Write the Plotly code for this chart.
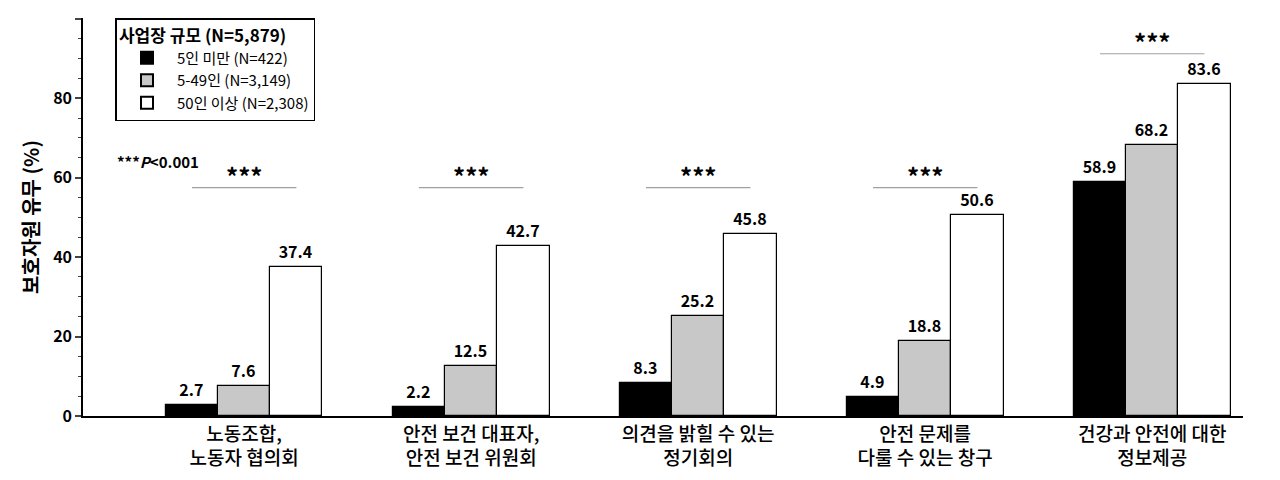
import plotly.graph_objects as go

categories = ["노동조합,<br>노동자 협의회", "안전 보건 대표자,<br>안전 보건 위원회",
              "의견을 밝힐 수 있는<br>정기회의", "안전 문제를<br>다룰 수 있는 창구",
              "건강과 안전에 대한<br>정보제공"]
series_names = ["5인 미만 (N=422)", "5-49인 (N=3,149)", "50인 이상 (N=2,308)"]
under5 = [2.7, 2.2, 8.3, 4.9, 58.9]
from5to49 = [7.6, 12.5, 25.2, 18.8, 68.2]
over50 = [37.4, 42.7, 45.8, 50.6, 83.6]
sig_levels = [57.5, 57.5, 57.5, 57.5, 91.2]

font = "Noto Sans CJK KR"
colors = ["black", "#c8c8c8", "white"]
w = 0.23
xs = list(range(len(categories)))

fig = go.Figure()
for i, (name, vals) in enumerate(zip(series_names, [under5, from5to49, over50])):
    fig.add_trace(go.Bar(
        x=[x + (i - 1) * w for x in xs], y=vals, width=w, name=name,
        marker=dict(color=colors[i], line=dict(color="black", width=1.2)),
        text=[f"{v:.1f}" for v in vals], textposition="outside",
        textfont=dict(size=16, color="black", family=font, weight="bold"),
        cliponaxis=False))

for x, lvl in zip(xs, sig_levels):
    fig.add_shape(type="line", x0=x - 0.23, x1=x + 0.23, y0=lvl, y1=lvl,
                  line=dict(color="#a0a0a0", width=1.2))
    fig.add_annotation(x=x, y=lvl, text="***", showarrow=False, yshift=12,
                       font=dict(size=24, color="black", family=font, weight="bold"))

fig.add_annotation(xref="paper", yref="y", x=0.028, y=64, xanchor="left",
                   text="***<i>P</i><0.001", showarrow=False,
                   font=dict(size=15, color="black", family=font, weight="bold"))

fig.update_layout(
    width=1280, height=480, plot_bgcolor="white", paper_bgcolor="white",
    margin=dict(l=75, r=45, t=10, b=72), bargap=0, barmode="overlay",
    font=dict(family=font, color="black"),
    legend=dict(x=0.028, y=1.0, xanchor="left", yanchor="top",
                bordercolor="black", borderwidth=1.5, bgcolor="white",
                title=dict(text="<b>사업장 규모 (N=5,879)</b>", font=dict(size=17)),
                font=dict(size=15), itemwidth=50, tracegroupgap=4,
                itemsizing="constant"),
    xaxis=dict(range=[-0.71, 4.4], tickvals=xs, ticktext=categories,
               showline=True, linecolor="black", linewidth=1.5, ticks="",
               tickfont=dict(size=19, family=font, weight=500)),
    yaxis=dict(range=[0, 100.2], tickvals=[0, 20, 40, 60, 80, 100],
               showgrid=False, zeroline=False,
               showline=True, linecolor="black", linewidth=1.5,
               ticks="outside", ticklen=6, tickwidth=1.5,
               minor=dict(ticks="outside", ticklen=3, dtick=5, tickwidth=1),
               tickfont=dict(size=16, family=font, weight="bold"),
               title=dict(text="<b>보호자원 유무 (%)</b>", font=dict(size=20), standoff=8)),
)
fig.write_html("out.html")
